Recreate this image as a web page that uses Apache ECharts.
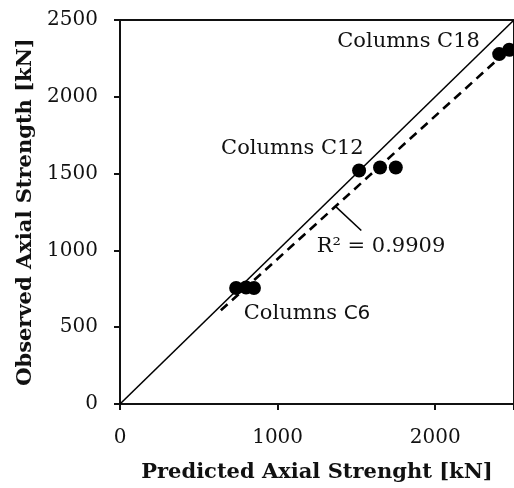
<!DOCTYPE html>
<html><head><meta charset="utf-8">
<script src="https://cdn.jsdelivr.net/npm/echarts@6/dist/echarts.min.js"></script>
<style>html,body{margin:0;padding:0;background:#fff}#c{width:514px;height:488px}</style>
</head><body><div id="c"></div>
<script>
// Data
const xTicks = [0, 1000, 2000];
const yTicks = [0, 500, 1000, 1500, 2000, 2500];
const predicted = [737, 800, 850, 1517, 1650, 1750, 2406, 2470];
const observed  = [755, 758, 755, 1520, 1540, 1540, 2278, 2306];
const equalityLine = [[0, 0], [2500, 2500]];
const trendLine = [[640, 610], [2500, 2340]];
const labelTexts = ['Columns C18', 'Columns C12', 'Columns C6', 'R² = 0.9909'];
const labelPos = [[1831, 2358], [1094, 1660], [1187, 588], [1656, 1027]];
const arrowFrom = [1531, 1130];
const arrowTo = [1369, 1285];

const serif = 'DejaVu Serif';
const chart = echarts.init(document.getElementById('c'));
const pts = predicted.map((x, i) => [x, observed[i]]);
const labelData = labelPos.map((p, i) => ({ value: p, name: labelTexts[i] }));

chart.setOption({
  animation: false,
  grid: { left: 120, top: 20, width: 400, bottom: 81, show: true, borderColor: '#111', borderWidth: 2, backgroundColor: 'transparent' },
  xAxis: {
    type: 'value', min: 0, max: 2500, interval: 1000,
    name: 'Predicted Axial Strenght [kN]', nameLocation: 'middle', nameGap: 58,
    nameTextStyle: { fontFamily: serif, fontWeight: 'bold', fontSize: 21, color: '#111' },
    axisLine: { show: true, lineStyle: { color: '#111', width: 2 } },
    axisTick: { show: true, inside: false, length: 6, lineStyle: { color: '#111', width: 2 } },
    axisLabel: { fontFamily: serif, fontSize: 20, color: '#111', margin: 24, customValues: xTicks, formatter: v => String(v) },
    splitLine: { show: false }
  },
  yAxis: {
    type: 'value', min: 0, max: 2500, interval: 500,
    name: 'Observed Axial Strength [kN]', nameLocation: 'middle', nameGap: 84,
    nameTextStyle: { fontFamily: serif, fontWeight: 'bold', fontSize: 21, color: '#111' },
    axisLine: { show: true, lineStyle: { color: '#111', width: 2 } },
    axisTick: { show: true, length: 6, lineStyle: { color: '#111', width: 2 } },
    axisLabel: { fontFamily: serif, fontSize: 20, color: '#111', margin: 22, formatter: v => String(v) },
    splitLine: { show: false }
  },
  series: [
    { type: 'line', data: equalityLine, symbol: 'none', lineStyle: { color: '#000', width: 1.6 }, z: 2,
      markLine: { symbol: ['none', 'arrow'], symbolSize: [0, 14], silent: true, label: { show: false },
        lineStyle: { color: '#000', width: 1.5, type: 'solid' },
        data: [[{ coord: arrowFrom }, { coord: arrowTo }]] } },
    { type: 'line', data: trendLine, symbol: 'none', lineStyle: { color: '#000', width: 2.6, type: [9, 6] }, z: 2 },
    { type: 'scatter', data: pts, symbol: 'circle', symbolSize: 14, itemStyle: { color: '#000', opacity: 1 }, z: 3 },
    { type: 'scatter', data: labelData, symbolSize: 0, z: 4, itemStyle: { opacity: 1 },
      label: { show: true, position: 'inside', fontFamily: serif, fontSize: 21, color: '#111',
        formatter: p => p.name === 'Columns C6' ? 'Columns {s|C6}' : p.name,
        rich: { s: { fontFamily: 'DejaVu Sans', fontSize: 20, color: '#111' } } } }
  ]
});
</script></body></html>
